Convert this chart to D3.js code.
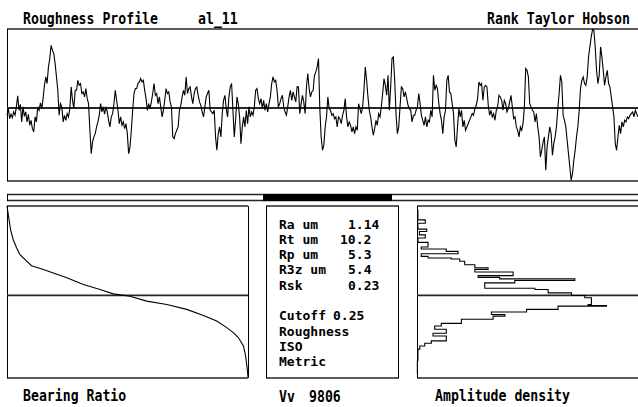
<!DOCTYPE html>
<html>
<head>
<meta charset="utf-8">
<script src="https://cdn.jsdelivr.net/npm/d3@7"></script>
<style>
  html, body { margin: 0; padding: 0; background: #fff; }
  svg { display: block; }
  text { font-family: "DejaVu Sans Mono", monospace; font-weight: bold; font-size: 13.2px; fill: #000; }
  text.panel { font-size: 13px; }
</style>
</head>
<body>
<div id="chart"></div>
<script>
// profile heights in um, sampled evenly along the trace
const profileZ = [
  -0.50,-0.05,-0.73,-0.43,-0.66,-0.27,-0.50,0.07,0.82,-0.16,
  0.25,-0.95,0.07,-0.57,-0.27,-0.95,-0.43,-1.18,-0.84,-1.41,
  -1.63,-0.61,-0.95,0.07,-0.16,0.34,-0.05,0.63,1.54,2.11,
  1.66,2.79,3.36,4.26,3.92,3.70,3.02,2.11,1.20,-0.50,
  0.29,0.07,-0.95,-0.50,-0.84,-0.39,-0.61,-0.05,1.43,0.52,
  -0.05,1.20,1.20,1.88,1.54,1.66,0.98,1.09,0.75,1.32,
  0.63,0.29,-1.52,-3.11,-2.31,-1.97,-1.75,-1.29,-0.95,-0.50,
  0.29,-0.27,0.07,-0.43,0.07,-0.27,-0.84,-1.29,-0.61,-0.39,
  0.29,1.20,0.52,-0.16,-1.07,-0.61,-1.18,-0.95,-1.41,-1.07,
  -1.75,-3.11,-2.65,-1.52,-0.16,0.98,1.32,1.32,1.66,1.77,
  2.00,1.77,1.88,1.20,0.63,-0.16,0.29,-0.05,0.41,0.98,
  1.66,0.86,0.98,0.29,0.75,0.07,-0.61,-0.16,0.52,1.32,
  0.98,1.09,0.41,0.07,-1.97,-2.09,-1.75,-1.52,-1.29,-0.16,
  0.18,0.75,1.20,0.86,2.11,0.98,1.32,1.43,0.75,0.29,
  0.98,1.32,1.43,0.86,0.41,0.18,-0.27,-0.61,0.07,0.75,
  0.98,1.20,
  -0.16,-0.27,-0.39,-0.16,-1.97,-2.88,-1.75,-1.29,-1.97,-0.39,
  0.52,0.86,-0.05,-0.61,0.75,1.43,1.66,-0.16,-1.97,-0.84,
  0.75,0.29,-0.61,-2.43,-1.29,-0.61,-1.29,-0.16,-1.07,0.07,
  -0.61,-0.27,-0.50,0.07,1.20,1.32,0.63,0.29,0.63,-0.05,
  0.52,-0.16,0.29,-0.27,0.29,0.75,1.66,2.11,1.77,1.88,
  1.20,0.07,0.29,0.63,0.86,0.07,-0.27,-0.50,0.07,0.75,
  1.20,0.52,1.09,0.75,0.41,1.43,1.43,-0.39,0.29,0.86,
  0.41,-0.39,1.43,2.34,1.32,0.75,1.09,1.20,2.22,2.45,
  2.79,3.36,-0.05,-1.97,-2.88,-2.54,-1.29,-0.61,0.75,-0.05,
  -0.16,-0.50,-0.39,-0.73,-0.61,-1.29,-0.61,-0.73,-1.07,-0.50,
  -0.16,0.63,-0.61,-1.29,-0.95,-1.18,-1.63,-1.29,-1.75,-1.29,
  -1.52,0.29,-0.05,-0.39,0.07,1.20,2.79,1.88,0.75,-0.16,
  -0.61,-1.29,-1.86,-1.41,-0.84,-1.18,-0.39,-0.61,0.07,0.98,
  2.00,1.54,0.86,2.22,-0.16,1.43,3.36,3.47,1.88,-0.39,
  -1.75,-1.29,0.07,1.43,1.32,0.75,1.09,0.63,0.18,-0.05,
  -0.16,-0.95,-0.50,-0.50,-0.16,0.07,0.98,0.29,-0.50,
  -0.84,-1.18,-0.61,-1.29,-0.84,-0.95,-0.16,-0.61,2.22,1.20,
  1.54,1.32,0.29,-0.39,-0.84,-1.75,-0.61,-0.16,1.88,2.22,
  1.09,0.98,0.29,-0.39,-2.20,-2.65,-1.29,-0.05,-0.61,-0.16,
  -1.29,-0.84,-1.52,-1.29,-1.07,-0.84,-0.61,-0.39,-0.50,-0.05,
  0.18,0.63,1.77,1.54,1.66,0.52,1.43,1.54,1.43,0.18,
  -0.50,-0.16,-0.61,-0.39,-0.84,-0.16,0.07,0.86,0.75,0.52,
  -0.16,0.52,0.29,-0.27,-0.05,0.41,0.86,0.07,-0.73,-0.61,
  -1.29,-1.52,-1.97,-1.29,-1.52,-1.07,0.07,2.68,2.56,2.11,
  0.29,0.07,-0.16,-0.27,-0.95,-0.39,-1.29,-1.97,-3.33,-2.88,
  -2.31,-1.97,-4.24,-2.65,-1.97,-1.29,-1.75,-3.22,-2.43,-1.97,
  -1.29,-0.05,0.98,2.22,1.77,-0.50,-0.84,-1.29,-2.20,-3.11,
  -4.01,-4.92,-4.47,-3.56,-2.88,-1.97,-1.29,-0.16,1.32,1.88,
  2.11,1.66,1.54,2.11,3.47,4.15,4.83,5.33,5.28,4.15,
  2.56,1.66,2.22,4.15,3.47,2.56,1.54,2.11,2.56,1.66,
  1.43,0.75,0.07,-0.61,-2.43,-2.88,-1.97,-1.18,-1.75,-0.95,
  -1.29,-0.84,-0.95,-0.61,-0.73,-0.50,-0.39,-0.27,-0.61,-0.16,
  -0.39,-0.61
];

// bearing ratio (Abbott curve): % of length vs height um
const bearingPct = [0, 0.97, 1.5, 2.6, 4.0, 5.4, 7.5, 10.2, 15.1, 19.2, 24.8, 31.7, 38.6, 44.1,
  51.0, 58.0, 66.3, 74.6, 81.5, 87.0, 91.2, 93.9, 96.0, 98.1, 99.0, 99.7, 100];
const bearingZ = [5.3, 4.37, 3.89, 3.30, 2.81, 2.41, 2.12, 1.76, 1.53, 1.33, 1.04, 0.64, 0.35, 0.09,
  -0.05, -0.34, -0.54, -0.83, -1.19, -1.52, -1.91, -2.21, -2.50, -3.00, -3.58, -4.37, -4.86];

// amplitude density: height um vs density %
const densityZ = [5.06, 4.48, 4.28, 3.93, 3.79, 3.59, 3.40, 3.14, 2.87, 2.75, 2.61, 2.47, 2.31, 2.22,
  2.16, 2.02, 1.82, 1.63, 1.53, 1.39, 1.17, 1.07, 0.98, 0.88, 0.74, 0.42, 0.35, 0.15, -0.01, -0.14,
  -0.54, -0.60, -0.64, -0.83, -0.99, -1.13, -1.23, -1.42, -1.66, -1.82, -2.01, -2.25, -2.41, -2.70,
  -2.84, -3.00, -3.19, -3.58, -3.88, -4.17, -4.66];
const densityVal = [0.02, 0.05, 0.45, 0.05, 0.53, 0.13, 0.45, 0.05, 0.60, 0.23, 1.59, 2.23, 0.23, 0.60,
  1.86, 2.32, 2.59, 3.14, 3.86, 3.14, 5.22, 3.32, 4.49, 8.57, 5.31, 3.68, 6.40, 7.12, 8.39, 9.11,
  9.47, 9.29, 10.29, 7.66, 5.95, 4.04, 4.77, 4.13, 2.41, 1.32, 0.96, 1.59, 0.87, 1.59,
  0.78, 0.42, 0.15, 0.05, 0.05, 0.02, 0.02];

const statLabels = ['Ra um', 'Rt um', 'Rp um', 'R3z um', 'Rsk'];
const statValues = ['1.14', '10.2', '5.3', '5.4', '0.23'];
const settingLines = ['Roughness', 'ISO', 'Metric'];
const cutoff = '0.25';
const vvValue = '9806';

const width = 638;
const height = 407;

const svg = d3.select('#chart').append('svg')
  .attr('width', width)
  .attr('height', height);

// frame lines: horizontals look heavier on the old screen
const hLine = (x1, x2, y, w) => svg.append('line')
  .attr('x1', x1).attr('x2', x2).attr('y1', y).attr('y2', y)
  .attr('stroke', '#262626').attr('stroke-width', w || 1.7);
const vLine = (x, y1, y2) => svg.append('line')
  .attr('x1', x).attr('x2', x).attr('y1', y1).attr('y2', y2)
  .attr('stroke', '#000').attr('stroke-width', 1);

// loose labels are stretched vertically like the 8x14 screen font
const label = (str, x, y) => svg.append('text')
  .attr('transform', `translate(${x},${y}) scale(1,1.2)`)
  .text(str);
// packed lines inside the parameter box stay unscaled so they don't collide
const panelText = (str, x, y) => svg.append('text')
  .attr('class', 'panel')
  .attr('x', x).attr('y', y)
  .text(str);

// ---- top: roughness profile
const profX = d3.scaleLinear().domain([0, profileZ.length - 1]).range([7, 638]);
const profY = d3.scaleLinear().domain([-4.97, 5.37]).range([181, 29]);

hLine(7, 638, profY.range()[1]);
hLine(7, 638, profY.range()[0]);
vLine(7.5, 29, 181);
hLine(7, 638, profY(0), 2);

svg.append('path')
  .datum(profileZ)
  .attr('fill', 'none')
  .attr('stroke', '#000')
  .attr('stroke-width', 1.1)
  .attr('d', d3.line().x((d, i) => profX(i)).y((d) => profY(d)));

label('Roughness Profile', 23, 23.5);
label('al_11', 198, 23.5);
label('Rank Taylor Hobson', 487, 23.5);

// ---- separator bar
hLine(7, 638, 194.5, 1.5);
hLine(7, 638, 200.5, 1.5);
vLine(7.5, 194, 201);
svg.append('rect')
  .attr('x', 263).attr('y', 194).attr('width', 129).attr('height', 7)
  .attr('fill', '#000');

// ---- bottom scales (same height units for both side panels)
const lowY = d3.scaleLinear().domain([-4.9, 5.3]).range([378, 206]);

// bearing ratio panel
const brX = d3.scaleLinear().domain([0, 100]).range([7, 248]);
hLine(brX.range()[0], brX.range()[1], lowY.range()[1]);
hLine(brX.range()[0], brX.range()[1], lowY.range()[0]);
vLine(7.5, 206, 378);
vLine(248.5, 206, 378);
hLine(brX.range()[0], brX.range()[1], lowY(0), 1.7);

svg.append('path')
  .datum(d3.zip(bearingPct, bearingZ))
  .attr('fill', 'none')
  .attr('stroke', '#000')
  .attr('stroke-width', 1.1)
  .attr('d', d3.line().x((d) => brX(d[0])).y((d) => lowY(d[1])));

label('Bearing Ratio', 23, 401);

// parameters panel
hLine(266, 399, 206);
hLine(266, 399, 378);
vLine(266.5, 206, 378);
vLine(398.5, 206, 378);

const lineGap = 15.3;
statLabels.forEach((s, i) => {
  panelText(s, 279, 228.5 + i * lineGap);
  const intDigits = statValues[i].split('.')[0].length;
  panelText(statValues[i], 348 - (intDigits - 1) * 8, 228.5 + i * lineGap);
});
panelText('Cutoff', 279, 228.5 + 6 * lineGap);
panelText(cutoff, 333, 228.5 + 6 * lineGap);
settingLines.forEach((s, i) => panelText(s, 279, 228.5 + (7 + i) * lineGap));

label('Vv', 279, 401.5);
label(vvValue, 309, 401.5);

// amplitude density panel
const adX = d3.scaleLinear().domain([0, 12]).range([417, 638]);
hLine(417, 638, 206);
hLine(417, 638, 378);
vLine(417.5, 206, 378);
hLine(417, 638, lowY(0), 1.7);

svg.append('path')
  .datum(d3.zip(densityVal, densityZ))
  .attr('fill', 'none')
  .attr('stroke', '#000')
  .attr('stroke-width', 1.1)
  .attr('d', d3.line().curve(d3.curveStepAfter).x((d) => adX(d[0])).y((d) => lowY(d[1])));

label('Amplitude density', 435, 401);
</script>
</body>
</html>
